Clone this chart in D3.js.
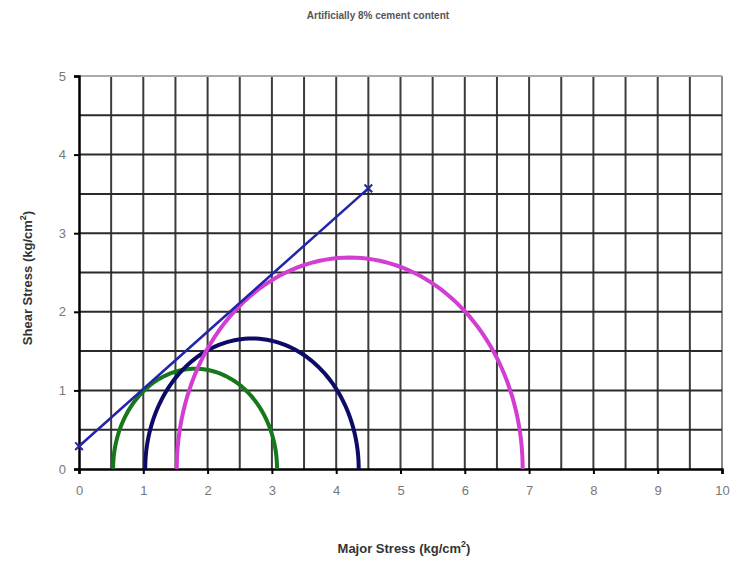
<!DOCTYPE html>
<html>
<head>
<meta charset="utf-8">
<script src="https://cdn.jsdelivr.net/npm/d3@7"></script>
<style>
  html, body { margin: 0; padding: 0; background: #fff; }
  svg { display: block; }
  text { font-family: "Liberation Sans", Arial, sans-serif; }
</style>
</head>
<body>
<svg id="chart" width="738" height="562"></svg>
<script>
// Mohr circles: minor (sigma3) and major (sigma1) principal stresses, kg/cm2
const circleNames = ["Test 1", "Test 2", "Test 3"];
const sigma3 = [0.53, 1.03, 1.52];
const sigma1 = [3.08, 4.35, 6.90];
const circleColors = ["#16781a", "#0c0c66", "#d23ed2"];

// Failure envelope end points
const envelopeX = [0, 4.5];
const envelopeY = [0.29, 3.57];

const xTicks = [0, 1, 2, 3, 4, 5, 6, 7, 8, 9, 10];
const yTicks = [0, 1, 2, 3, 4, 5];
const gridStep = 0.5;

const svg = d3.select("#chart");
const margin = { left: 79, right: 16, top: 76, bottom: 93 };
const W = 738, H = 562;

const x = d3.scaleLinear().domain([0, 10]).range([margin.left, W - margin.right]);
const y = d3.scaleLinear().domain([0, 5]).range([H - margin.bottom, margin.top]);

// grid
const gx = d3.range(0, 10 + 1e-9, gridStep);
const gy = d3.range(0, 5 + 1e-9, gridStep);
svg.append("g").selectAll("line").data(gx.slice(1)).join("line")
  .attr("x1", d => x(d)).attr("x2", d => x(d))
  .attr("y1", y(0)).attr("y2", y(5))
  .attr("stroke", d => d === 10 ? "#888" : "#3c3c3c")
  .attr("stroke-width", 2);
svg.append("g").selectAll("line").data(gy.slice(1)).join("line")
  .attr("x1", x(0)).attr("x2", x(10))
  .attr("y1", d => y(d)).attr("y2", d => y(d))
  .attr("stroke", d => d === 5 ? "#aaa" : "#2a2a2a")
  .attr("stroke-width", 2);

// axes
const fmt = d3.format("d");
const xAxis = svg.append("g")
  .attr("transform", `translate(0,${y(0)})`)
  .call(d3.axisBottom(x).tickValues(xTicks).tickFormat(fmt).tickSize(5).tickPadding(12));
const yAxis = svg.append("g")
  .attr("transform", `translate(${x(0)},0)`)
  .call(d3.axisLeft(y).tickValues(yTicks).tickFormat(fmt).tickSize(5).tickPadding(8));
[xAxis, yAxis].forEach(a => {
  a.select(".domain").attr("stroke", "#000").attr("stroke-width", 2.5);
  a.selectAll(".tick line").attr("stroke", "#000").attr("stroke-width", 2);
  a.selectAll(".tick text").attr("fill", "#777").attr("font-size", 13);
});

// Mohr semicircles
const line = d3.line().x(d => x(d[0])).y(d => y(d[1]));
const angles = d3.range(0, 181, 2).map(a => a * Math.PI / 180);
circleNames.forEach((name, i) => {
  const c = (sigma1[i] + sigma3[i]) / 2;
  const r = (sigma1[i] - sigma3[i]) / 2;
  const pts = angles.map(t => [c + r * Math.cos(t), r * Math.sin(t)]);
  svg.append("path").datum(pts)
    .attr("d", line)
    .attr("fill", "none")
    .attr("stroke", circleColors[i])
    .attr("stroke-width", 4);
});

// envelope line with end markers
const env = envelopeX.map((v, i) => [v, envelopeY[i]]);
svg.append("path").datum(env)
  .attr("d", line)
  .attr("fill", "none")
  .attr("stroke", "#2424a8")
  .attr("stroke-width", 2.5);
svg.append("g").selectAll("path").data(env).join("path")
  .attr("transform", d => `translate(${x(d[0])},${y(d[1])})`)
  .attr("d", d3.symbol(d3.symbolTimes, 40))
  .attr("fill", "none")
  .attr("stroke", "#2424a8")
  .attr("stroke-width", 2);

// titles
svg.append("text")
  .attr("x", 378).attr("y", 19)
  .attr("text-anchor", "middle")
  .attr("font-size", 10).attr("font-weight", "bold").attr("fill", "#555")
  .text("Artificially 8% cement content");

const xl = svg.append("text")
  .attr("x", 404).attr("y", 553)
  .attr("text-anchor", "middle")
  .attr("font-size", 13).attr("font-weight", "bold").attr("fill", "#333");
xl.append("tspan").text("Major Stress (kg/cm");
xl.append("tspan").attr("dy", -6).attr("font-size", 9).text("2");
xl.append("tspan").attr("dy", 6).text(")");

const yl = svg.append("text")
  .attr("transform", "translate(32,278) rotate(-90)")
  .attr("text-anchor", "middle")
  .attr("font-size", 13).attr("font-weight", "bold").attr("fill", "#333");
yl.append("tspan").text("Shear Stress (kg/cm");
yl.append("tspan").attr("dy", -6).attr("font-size", 9).text("2");
yl.append("tspan").attr("dy", 6).text(")");
</script>
</body>
</html>
